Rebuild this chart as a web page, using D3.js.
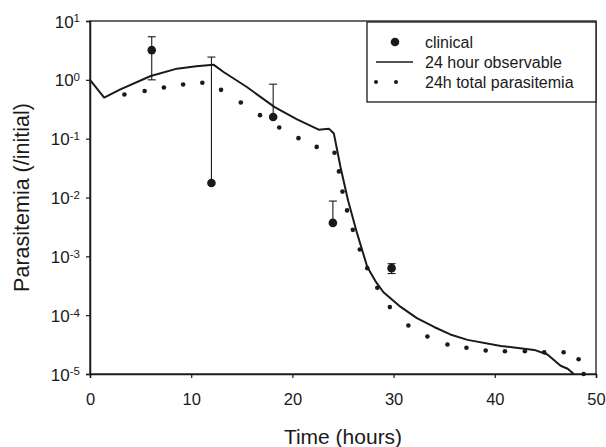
<!DOCTYPE html>
<html>
<head>
<meta charset="utf-8">
<script src="https://cdn.jsdelivr.net/npm/d3@7/dist/d3.min.js"></script>
<style>
  body { margin: 0; background: #fff; }
  text { font-family: "Liberation Sans", Arial, sans-serif; fill: #1a1a1a; }
</style>
</head>
<body>
<svg id="chart" width="606" height="447"></svg>
<script>
// Clinical measurements (mean with symmetric error)
const clinicalTime  = [6.1, 12.0, 18.1, 24.0, 29.8];
const clinicalValue = [3.2, 0.0176, 0.233, 0.0037, 0.00063];
const clinicalError = [2.2, 2.42, 0.61, 0.005, 0.00012];

// Model: 24 hour observable parasitemia
const observableTime  = [0, 1.4, 3.0, 6.0, 8.6, 10.5, 12.2, 13.2, 15.5, 18.25, 20.46, 22.6, 23.6, 24.1,
                         24.75, 25.5, 26.4, 27.4, 28.2, 29.0, 30.7, 32.3, 34.0, 35.6, 37.3, 40.6, 43.9,
                         45.2, 46.5, 47.2, 47.8];
const observableValue = [1.0, 0.50, 0.69, 1.16, 1.55, 1.70, 1.81, 1.36, 0.755, 0.344, 0.213, 0.142, 0.148, 0.122,
                         0.033, 0.0089, 0.00243, 0.00066, 0.00038, 0.000245, 0.000138, 8.9e-5, 6.3e-5, 4.7e-5, 3.8e-5, 3.0e-5, 2.57e-5,
                         2.14e-5, 1.38e-5, 1.23e-5, 1.0e-5];

// Model: 24h total parasitemia
const totalTime  = [3.4, 5.4, 7.3, 9.2, 11.1, 12.95, 14.9, 16.8, 18.7, 20.6, 22.4, 24.16, 24.6, 24.95, 25.4,
                    25.97, 26.66, 27.4, 28.39, 29.63, 31.46, 33.34, 35.32, 37.2, 39.1, 41.0, 42.97, 44.88,
                    46.8, 48.28, 48.78];
const totalValue = [0.562, 0.646, 0.741, 0.832, 0.891, 0.676, 0.412, 0.251, 0.155, 0.102, 0.0724, 0.0575, 0.0278, 0.0126, 0.00603,
                    0.00282, 0.00131, 0.00063, 0.000292, 0.000137, 6.68e-5, 4.35e-5, 3.18e-5, 2.79e-5, 2.51e-5, 2.44e-5, 2.44e-5, 2.34e-5,
                    2.34e-5, 1.78e-5, 1.0e-5];

const xTicks = [0, 10, 20, 30, 40, 50];
const yTickExponents = [1, 0, -1, -2, -3, -4, -5];
const legendLabels = ["clinical", "24 hour observable", "24h total parasitemia"];
const xTitle = "Time (hours)";
const yTitle = "Parasitemia (/initial)";

const W = 606, H = 447;
const margin = { left: 90, right: 10, top: 21, bottom: 73 };
const svg = d3.select("#chart");
const ink = "#1a1a1a";

const x = d3.scaleLinear().domain([0, 50]).range([margin.left, W - margin.right]);
const y = d3.scaleLog().domain([1e-5, 10]).range([H - margin.bottom, margin.top]);

const plot = svg.append("g");

// frame (top and right edges)
plot.append("rect")
  .attr("x", x(0)).attr("y", y(10))
  .attr("width", x(50) - x(0)).attr("height", y(1e-5) - y(10))
  .attr("fill", "none").attr("stroke", ink).attr("stroke-width", 1.3);

// x axis
const xAxis = d3.axisBottom(x).tickValues(xTicks).tickSize(4).tickFormat(d3.format("d"));
const gx = svg.append("g").attr("transform", `translate(0,${y(1e-5)})`).call(xAxis);
gx.select(".domain").attr("stroke", ink).attr("stroke-width", 1.5);
gx.selectAll(".tick line").attr("stroke", ink).attr("stroke-width", 1.2);
gx.selectAll(".tick text").attr("font-size", 16.5).attr("dy", "1.45em")
  .style("font-family", '"Liberation Sans", Arial, sans-serif').attr("fill", ink);

// y axis with power-of-ten labels
const yAxis = d3.axisLeft(y).tickValues(yTickExponents.map(e => Math.pow(10, e))).tickSize(4).tickFormat("");
const gy = svg.append("g").attr("transform", `translate(${x(0)},0)`).call(yAxis);
gy.select(".domain").attr("stroke", ink).attr("stroke-width", 1.5);
gy.selectAll(".tick line").attr("stroke", ink).attr("stroke-width", 1.2);
gy.selectAll(".tick").each(function(d, i) {
  const t = d3.select(this).append("text")
    .attr("x", -10).attr("y", 0).attr("dy", "0.36em")
    .attr("text-anchor", "end").attr("font-size", 17).attr("fill", ink);
  t.append("tspan").text("10");
  t.append("tspan").attr("dy", "-0.45em").attr("font-size", 11.5)
    .text(String(Math.round(Math.log10(d))));
});

// axis titles
svg.append("text")
  .attr("x", (x(0) + x(50)) / 2).attr("y", 444)
  .attr("text-anchor", "middle").attr("font-size", 21).text(xTitle);
svg.append("text")
  .attr("transform", `translate(29,${(y(1e-5) + y(10)) / 2}) rotate(-90)`)
  .attr("text-anchor", "middle").attr("font-size", 21.5).text(yTitle);

// solid model curve
const observable = observableTime.map((t, i) => [t, observableValue[i]]);
plot.append("path")
  .datum(observable)
  .attr("fill", "none").attr("stroke", ink).attr("stroke-width", 2)
  .attr("stroke-linejoin", "round")
  .attr("d", d3.line().x(d => x(d[0])).y(d => y(d[1])));

// dotted model series
const total = totalTime.map((t, i) => [t, totalValue[i]]);
plot.selectAll("circle.total").data(total).join("circle")
  .attr("class", "total")
  .attr("cx", d => x(d[0])).attr("cy", d => y(d[1])).attr("r", 2.3)
  .attr("fill", ink);

// clinical points with error bars (lower bar only where positive)
const clinical = clinicalTime.map((t, i) => ({ t, v: clinicalValue[i], e: clinicalError[i] }));
const eb = plot.selectAll("g.clin").data(clinical).join("g").attr("class", "clin");
eb.append("line")
  .attr("x1", d => x(d.t)).attr("x2", d => x(d.t))
  .attr("y1", d => y(d.v + d.e))
  .attr("y2", d => d.v - d.e > 0 ? y(d.v - d.e) : y(d.v))
  .attr("stroke", ink).attr("stroke-width", 1.1);
eb.append("line")
  .attr("x1", d => x(d.t) - 4).attr("x2", d => x(d.t) + 4)
  .attr("y1", d => y(d.v + d.e)).attr("y2", d => y(d.v + d.e))
  .attr("stroke", ink).attr("stroke-width", 1.1);
eb.filter(d => d.v - d.e > 0).append("line")
  .attr("x1", d => x(d.t) - 4).attr("x2", d => x(d.t) + 4)
  .attr("y1", d => y(d.v - d.e)).attr("y2", d => y(d.v - d.e))
  .attr("stroke", ink).attr("stroke-width", 1.1);
eb.append("circle")
  .attr("cx", d => x(d.t)).attr("cy", d => y(d.v)).attr("r", 4.3)
  .attr("fill", ink);

// legend
const lg = svg.append("g").attr("transform", "translate(367,22)");
lg.append("rect").attr("width", x(50) - 367).attr("height", 80)
  .attr("fill", "#fff").attr("stroke", ink).attr("stroke-width", 1.3);
const rows = [20, 40, 60];
lg.append("circle").attr("cx", 28).attr("cy", rows[0]).attr("r", 4.3).attr("fill", ink);
lg.append("line").attr("x1", 9).attr("x2", 46).attr("y1", rows[1]).attr("y2", rows[1])
  .attr("stroke", ink).attr("stroke-width", 1.6);
lg.append("circle").attr("cx", 9).attr("cy", rows[2]).attr("r", 2).attr("fill", ink);
lg.append("circle").attr("cx", 29).attr("cy", rows[2]).attr("r", 2).attr("fill", ink);
lg.selectAll("text.lab").data(legendLabels).join("text")
  .attr("class", "lab")
  .attr("x", 58).attr("y", (d, i) => rows[i]).attr("dy", "0.36em")
  .attr("font-size", 16).text(d => d);
</script>
</body>
</html>
